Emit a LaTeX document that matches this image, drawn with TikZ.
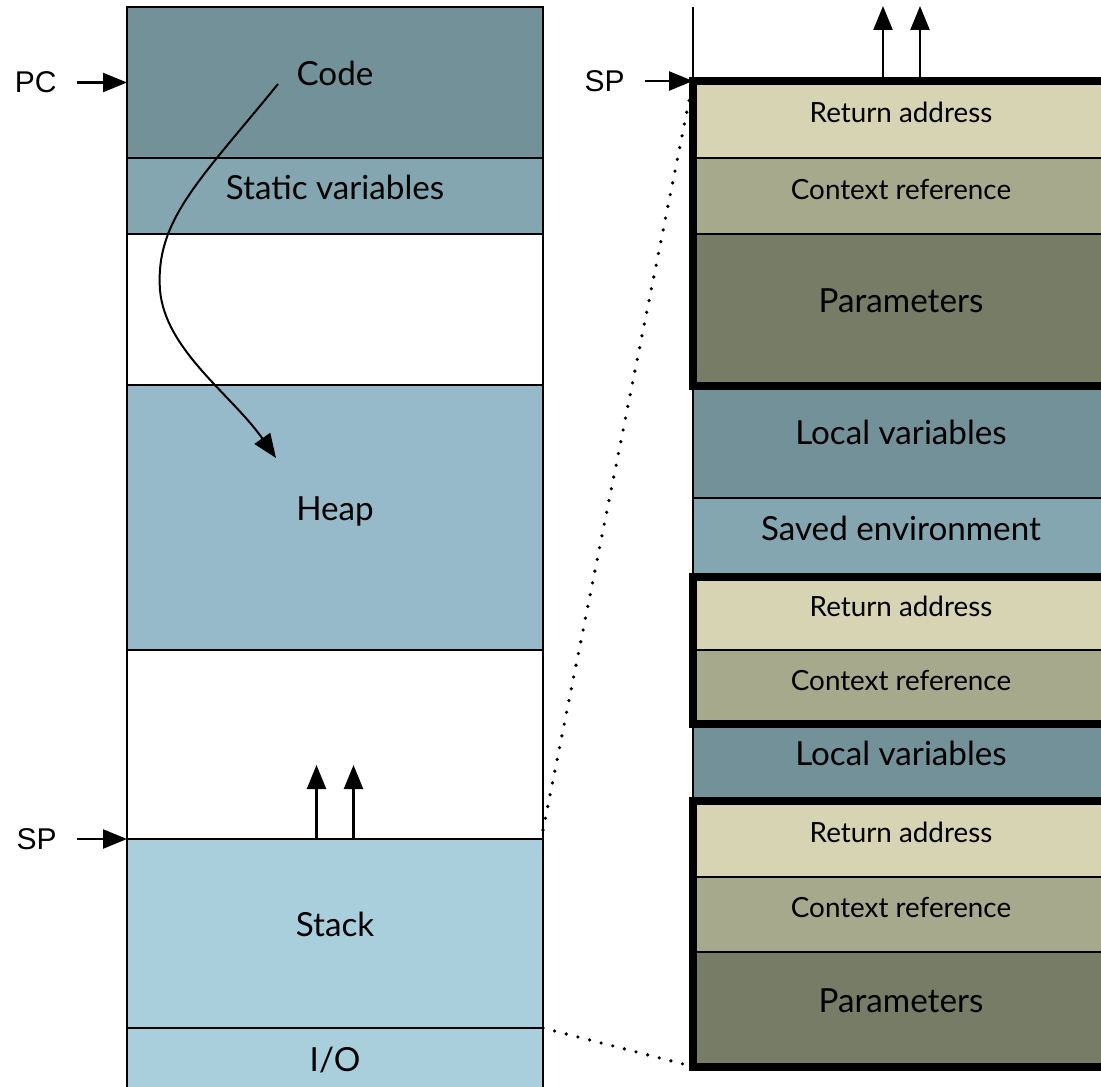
\documentclass[tikz,border=0pt]{standalone}
\usepackage{fontspec}
\setmainfont{Lato}
\newfontfamily\ptrfont{Liberation Sans}
\usetikzlibrary{arrows.meta,positioning}
\definecolor{codecol}{RGB}{114,145,152}
\definecolor{staticcol}{RGB}{132,166,176}
\definecolor{heapcol}{RGB}{150,186,202}
\definecolor{stackcol}{RGB}{169,206,220}
\definecolor{retcol}{RGB}{214,212,178}
\definecolor{ctxcol}{RGB}{166,169,140}
\definecolor{parcol}{RGB}{119,124,102}
\tikzstyle{block}=[
  draw=black,
  line width=1pt,
  rectangle,
  inner sep=0pt,
  outer sep=0pt,
  minimum width=208pt,
  text height=11pt,
  text depth=8pt,
  font={\fontsize{16.6}{20}\selectfont},
]
\tikzstyle{small}=[
  text height=10pt,
  text depth=7pt,
  font={\fontsize{13.9}{16}\selectfont},
]
\tikzstyle{frame}=[
  draw=black,
  line width=4pt,
]
\tikzstyle{pointer}=[
  font={\ptrfont\fontsize{15}{18}\selectfont},
  inner sep=0pt,
]
\tikzstyle{arrow}=[
  line width=1.2pt,
  -{Triangle[length=12pt,width=9.5pt]},
]
\tikzstyle{zoomline}=[
  line width=1.8pt,
  line cap=round,
  dash pattern=on 0pt off 6pt,
]
\tikzset{
  tall/.style={minimum height=#1*0.5pt},
}
\begin{document}
\begin{tikzpicture}[x=0.5pt, y=-0.5pt]
  \useasboundingbox (0,0) rectangle (1101,1086);
  % memory layout
  \node (code) [block, tall=151, fill=codecol] at (335,82.5) {Code};
  \node (static) [block, tall=76, fill=staticcol, below=0pt of code] {Static variables};
  \node (free1) [block, tall=151, below=0pt of static] {};
  \node (heap) [block, tall=265, fill=heapcol, below=0pt of free1] {Heap};
  \node (free2) [block, tall=189, below=0pt of heap] {};
  \node (stack) [block, tall=189, fill=stackcol, below=0pt of free2] {Stack};
  \node (io) [block, tall=80, fill=stackcol, below=0pt of stack] {I/O};
  % stack frames
  \node (ret1) [block, small, tall=77, fill=retcol] at (901,119.5) {Return address};
  \node (ctx1) [block, small, tall=76, fill=ctxcol, below=0pt of ret1] {Context reference};
  \node (par1) [block, tall=151.5, fill=parcol, below=0pt of ctx1] {Parameters};
  \node (loc1) [block, tall=112.5, fill=codecol, below=0pt of par1] {Local variables};
  \node (env) [block, tall=78.5, fill=staticcol, below=0pt of loc1] {Saved environment};
  \node (ret2) [block, small, tall=73.5, fill=retcol, below=0pt of env] {Return address};
  \node (ctx2) [block, small, tall=74, fill=ctxcol, below=0pt of ret2] {Context reference};
  \node (loc2) [block, tall=77, fill=codecol, below=0pt of ctx2] {Local variables};
  \node (ret3) [block, small, tall=76, fill=retcol, below=0pt of loc2] {Return address};
  \node (ctx3) [block, small, tall=75, fill=ctxcol, below=0pt of ret3] {Context reference};
  \node (par3) [block, tall=114.5, fill=parcol, below=0pt of ctx3] {Parameters};
  \coordinate (rtop) at (693,7);
  \draw [line width=1pt] (rtop) -- (ret1.north west);
  % zoom lines
  \draw [zoomline] ([yshift=4.5pt]stack.north east) -- (ret1.north west);
  \draw [zoomline] (io.north east) -- (par3.south west);
  \draw [frame] (ret1.north west) rectangle (par1.south east);
  \draw [frame] (ret2.north west) rectangle (ctx2.south east);
  \draw [frame] (ret3.north west) rectangle (par3.south east);
  % pointers
  \node (pc) [pointer, left=35pt of code.west] {PC};
  \node (spl) [pointer, left=35pt of stack.north west] {SP};
  \node (spr) [pointer, left=34pt of ret1.north west] {SP};
  \draw [arrow, shorten <=10pt] (pc) -- (code.west);
  \draw [arrow, shorten <=10pt] (spl) -- (stack.north west);
  \draw [arrow, shorten <=10pt] (spr) -- (ret1.north west);
  % growth
  \coordinate (growl1) at ([xshift=-9.25pt, yshift=37pt]stack.north);
  \coordinate (growl2) at ([xshift=9.25pt, yshift=37pt]stack.north);
  \coordinate (growr1) at ([xshift=-9pt, yshift=37.5pt]ret1.north);
  \coordinate (growr2) at ([xshift=9.5pt, yshift=37.5pt]ret1.north);
  \draw [arrow] (stack.north -| growl1) -- (growl1);
  \draw [arrow] (stack.north -| growl2) -- (growl2);
  \draw [arrow] ([yshift=2pt]ret1.north -| growr1) -- (growr1);
  \draw [arrow] ([yshift=2pt]ret1.north -| growr2) -- (growr2);
  % control flow
  \coordinate (flowstart) at (278,84);
  \coordinate (flowend) at (276,458);
  \draw [arrow, line width=1pt] (flowstart) .. controls (200,180) and (155,220) .. (160,290)
    .. controls (165,350) and (232,395) .. (flowend);
\end{tikzpicture}
\end{document}
